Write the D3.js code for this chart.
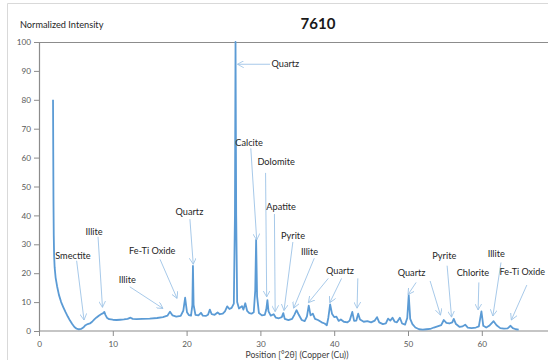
<!DOCTYPE html>
<html>
<head>
<meta charset="utf-8">
<script src="https://cdn.jsdelivr.net/npm/d3@7"></script>
<style>
  html, body { margin: 0; padding: 0; background: #fff; overflow: hidden; }
  svg { display: block; font-family: Lato, "Open Sans", sans-serif; }
</style>
</head>
<body>
<svg id="chart" width="548" height="360"></svg>
<script>
// Diffraction pattern, sample 7610 (2θ in degrees, normalized intensity)
const twoTheta = [
  1.90, 1.93, 1.96, 2.00, 2.05, 2.12, 2.25, 2.45, 2.70, 3.00, 3.30, 3.60, 3.90, 4.20, 4.50, 4.80,
  5.10, 5.40, 5.70, 6.00, 6.30, 6.60, 6.90, 7.20, 7.50, 7.80, 8.10, 8.40, 8.70, 8.85, 9.00, 9.20,
  9.50, 10.0, 10.5, 11.0, 11.5, 12.0, 12.4, 12.7, 13.2, 14.0, 15.0, 16.0, 16.8, 17.4, 17.75, 18.1,
  18.6, 19.2, 19.55, 19.8, 20.05, 20.3, 20.6, 20.78, 20.86, 20.95, 21.2, 21.6, 21.95, 22.2, 22.6, 22.9,
  23.15, 23.4, 23.8, 24.2, 24.5, 24.9, 25.2, 25.5, 25.8, 26.1, 26.4, 26.55, 26.63, 26.72, 26.85, 27.1,
  27.5, 27.7, 27.95, 28.2, 28.5, 28.8, 29.1, 29.3, 29.42, 29.55, 29.8, 30.2, 30.6, 30.8, 30.95, 31.1,
  31.4, 31.8, 32.1, 32.5, 32.9, 33.1, 33.3, 33.8, 34.3, 34.6, 34.9, 35.2, 35.6, 36.0, 36.3, 36.55,
  36.8, 37.1, 37.4, 37.8, 38.3, 38.7, 39.0, 39.2, 39.45, 39.7, 40.0, 40.3, 40.6, 40.9, 41.3, 41.8,
  42.1, 42.45, 42.7, 43.0, 43.25, 43.5, 44.0, 44.5, 45.0, 45.5, 45.8, 46.1, 46.6, 47.0, 47.3, 47.6,
  47.9, 48.2, 48.5, 48.9, 49.2, 49.6, 49.9, 50.1, 50.3, 50.6, 51.0, 51.5, 52.0, 52.5, 53.0, 53.5,
  54.0, 54.5, 54.85, 55.2, 55.6, 56.0, 56.2, 56.5, 57.0, 57.4, 57.75, 58.1, 58.6, 59.2, 59.6, 59.95,
  60.2, 60.6, 61.0, 61.6, 62.0, 62.5, 63.0, 63.5, 63.9, 64.2, 64.6, 65.0
];
const intensity = [
  80, 62, 45, 33, 26, 22, 18.5, 15.5, 12.5, 10, 8.2, 6.5, 5, 3.6, 2.4, 1.4,
  0.8, 0.6, 0.7, 1.2, 2.0, 2.4, 2.6, 3.2, 4.0, 4.7, 5.3, 5.8, 6.2, 6.6, 5.6, 4.6,
  4.1, 3.9, 3.8, 3.9, 4.0, 4.2, 4.6, 4.2, 4.1, 4.2, 4.3, 4.5, 4.8, 5.3, 6.7, 5.4,
  5.0, 5.2, 7.0, 11.5, 6.5, 5.5, 5.3, 9, 22.5, 9, 5.6, 5.4, 6.3, 5.3, 5.2, 5.6,
  7.4, 5.8, 5.6, 6.4, 5.8, 6.0, 6.8, 8.5, 7.6, 8.0, 9.5, 40, 100, 40, 10, 7.8,
  8.6, 7.4, 9.6, 7, 6.2, 6.0, 6.5, 14, 31.5, 12, 6.2, 5.4, 5.6, 7.5, 10.7, 6.8,
  5.3, 5.8, 4.6, 4.4, 4.8, 6.2, 4.2, 3.8, 4.2, 5.6, 7.2, 5.6, 3.8, 3.4, 5.0, 8.8,
  5.4, 6.0, 4.2, 3.8, 3.0, 2.6, 2.0, 4.5, 9.2, 6.0, 4.8, 5.0, 3.5, 4.0, 3.2, 3.0,
  3.6, 6.6, 3.5, 3.6, 6.0, 4.0, 3.2, 3.4, 3.0, 3.6, 4.8, 3.0, 2.4, 2.6, 4.3, 3.6,
  4.6, 3.2, 3.0, 4.6, 2.6, 2.2, 4.5, 12.4, 4.2, 2.4, 1.2, 0.6, 0.5, 0.6, 0.7, 1.2,
  1.6, 2.0, 3.8, 2.8, 2.6, 3.0, 4.2, 2.4, 1.4, 1.6, 2.2, 1.2, 1.0, 1.2, 1.6, 6.8,
  1.8, 1.2, 1.8, 3.4, 2.0, 1.0, 0.8, 0.9, 1.8, 1.0, 0.6, 0.5
];

const xTicks = [0, 10, 20, 30, 40, 50, 60];
const yTicks = [0, 10, 20, 30, 40, 50, 60, 70, 80, 90, 100];

// Mineral labels: text anchor (2θ, intensity)
const labelText = ["Smectite", "Illite", "Illite", "Fe-Ti Oxide", "Quartz", "Quartz",
  "Calcite", "Dolomite", "Apatite", "Pyrite", "Illite", "Quartz", "Quartz", "Pyrite",
  "Chlorite", "Illite", "Fe-Ti Oxide"];
const labelX = [2.2, 6.3, 10.8, 12.2, 18.5, 31.5, 26.6, 29.6, 30.8, 32.8, 35.5, 38.9, 48.6, 53.3, 56.6, 60.8, 62.4];
const labelY = [26.0, 34.3, 17.6, 27.6, 41.3, 92.3, 65.0, 58.5, 43.1, 33.1, 27.5, 20.8, 20.3, 26.0, 20.3, 26.8, 20.3];
// each arrow: [label index, from 2θ, from I, to 2θ, to I]
const arrowLabel = [0, 1, 2, 3, 4, 5, 6, 7, 8, 9, 10, 11, 11, 11, 12, 12, 13, 14, 15, 16];
const arrowFromX = [5.1, 8.0, 12.3, 16.4, 20.45, 31.3, 28.7, 30.7, 31.9, 34.4, 37.3, 39.2, 41.0, 43.2, 51.1, 53.0, 55.3, 59.6, 62.6, 66.1];
const arrowFromY = [24.3, 32.6, 15.3, 24.8, 38.7, 92.3, 63.2, 54.7, 40.5, 30.8, 25.2, 18.2, 18.2, 18.2, 16.8, 17.3, 22.6, 16.8, 23.7, 15.9];
const arrowToX = [6.1, 8.6, 16.8, 18.7, 20.9, 26.9, 29.5, 30.85, 32.0, 33.2, 34.5, 36.5, 39.4, 43.1, 50.0, 54.4, 55.9, 59.5, 61.5, 64.0];
const arrowToY = [3.8, 8.2, 7.8, 11.3, 23.1, 92.3, 31.5, 11.8, 6.7, 7.1, 7.9, 9.8, 9.8, 7.9, 12.6, 5.5, 4.8, 7.3, 5.2, 3.8];

const svg = d3.select("#chart");
const x = d3.scaleLinear().domain([0, 80]).range([39, 39 + 80 * 7.38]);
const y = d3.scaleLinear().domain([0, 100]).range([331, 42]);
const W = 548;

// outer chart frame
svg.append("path")
  .attr("d", `M7.5,360 V3.5 H${W}`)
  .attr("fill", "none").attr("stroke", "#d9d9d9").attr("stroke-width", 1);

// plot frame top edge
svg.append("line")
  .attr("x1", x(0)).attr("x2", W).attr("y1", y(100) + 0.5).attr("y2", y(100) + 0.5)
  .attr("stroke", "#8c8c8c").attr("stroke-width", 1.2);

// title and axis titles
svg.append("text").attr("x", 318).attr("y", 29).attr("text-anchor", "middle")
  .attr("font-size", 15).attr("font-weight", "bold").attr("fill", "#1a1a1a").text("7610");
svg.append("text").attr("x", 20).attr("y", 28)
  .attr("font-size", 9.2).attr("fill", "#262626").text("Normalized Intensity");
svg.append("text").attr("x", 297).attr("y", 358).attr("text-anchor", "middle")
  .attr("font-size", 8.6).attr("fill", "#404040").text("Position [°2θ] (Copper (Cu))");

// axes
const yAxis = svg.append("g").attr("transform", `translate(${x(0)},0)`)
  .call(d3.axisLeft(y).tickValues(yTicks).tickSize(5).tickPadding(3).tickSizeOuter(0));
const xAxis = svg.append("g").attr("transform", `translate(0,${y(0)})`)
  .call(d3.axisBottom(x).tickValues(xTicks).tickSize(5).tickPadding(5).tickSizeOuter(0));
// extend the bottom axis line across the full plot width
xAxis.select(".domain").attr("d", `M${x(0)},0H${W}`);
[xAxis, yAxis].forEach(g => {
  g.select(".domain").attr("stroke", "#8c8c8c").attr("stroke-width", 1.2);
  g.selectAll(".tick line").attr("stroke", "#8c8c8c");
  g.selectAll(".tick text").attr("fill", "#595959").attr("font-size", 8.2)
    .attr("font-family", "Lato, 'Open Sans', sans-serif");
});

// diffraction trace
const pts = twoTheta.map((t, i) => [t, intensity[i]]);
svg.append("path")
  .datum(pts)
  .attr("fill", "none")
  .attr("stroke", "#5b9bd5")
  .attr("stroke-width", 1.8)
  .attr("stroke-linejoin", "round")
  .attr("d", d3.line().x(d => x(d[0])).y(d => y(d[1])));

// arrowhead
svg.append("defs").append("marker")
  .attr("id", "arrowHead").attr("viewBox", "0 0 10 10")
  .attr("refX", 9).attr("refY", 5)
  .attr("markerWidth", 7).attr("markerHeight", 7)
  .attr("markerUnits", "userSpaceOnUse")
  .attr("orient", "auto")
  .append("path").attr("d", "M0,0 L9,5 L0,10")
  .attr("fill", "none").attr("stroke", "#9dc3e6").attr("stroke-width", 1.2);

// mineral annotation arrows
svg.append("g").selectAll("line")
  .data(arrowLabel.map((l, i) => i))
  .join("line")
  .attr("x1", i => x(arrowFromX[i])).attr("y1", i => y(arrowFromY[i]))
  .attr("x2", i => x(arrowToX[i])).attr("y2", i => y(arrowToY[i]))
  .attr("stroke", "#9dc3e6").attr("stroke-width", 0.9)
  .attr("marker-end", "url(#arrowHead)");

// mineral labels
svg.append("g").selectAll("text")
  .data(labelText)
  .join("text")
  .attr("x", (d, i) => x(labelX[i]))
  .attr("y", (d, i) => y(labelY[i]))
  .attr("dy", "0.35em")
  .attr("font-size", (d, i) => i === labelText.length - 1 ? 9 : 9.2)
  .attr("fill", "#262626")
  .text(d => d);
</script>
</body>
</html>
